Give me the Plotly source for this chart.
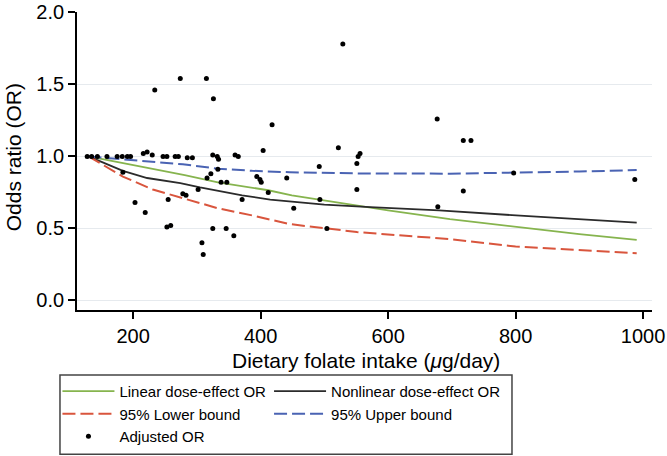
import plotly.graph_objects as go

# Linear dose-effect OR
lin_x = [130, 200, 281, 333, 412, 449, 500, 551, 600, 697, 800, 900, 990]
lin_y = [1.0, 0.94, 0.87, 0.82, 0.765, 0.73, 0.695, 0.655, 0.625, 0.565, 0.51, 0.46, 0.42]

# Nonlinear dose-effect OR
non_x = [130, 184, 222, 274, 305, 333, 371, 415, 449, 500, 572, 680, 820, 990]
non_y = [1.0, 0.90, 0.85, 0.815, 0.785, 0.76, 0.73, 0.70, 0.685, 0.665, 0.648, 0.625, 0.585, 0.54]

# 95% Lower bound
low_x = [130, 184, 231, 278, 333, 387, 446, 551, 650, 700, 800, 900, 990]
low_y = [1.0, 0.86, 0.77, 0.71, 0.64, 0.59, 0.53, 0.475, 0.443, 0.425, 0.374, 0.348, 0.328]

# 95% Upper bound
up_x = [130, 196, 278, 333, 387, 446, 551, 697, 797, 900, 990]
up_y = [1.0, 0.975, 0.945, 0.915, 0.90, 0.89, 0.882, 0.88, 0.886, 0.895, 0.905]

# Adjusted OR (study points)
adj_x = [128, 135, 144, 159, 175, 183, 191, 196, 216, 222, 230, 247, 253, 266, 271, 285, 293,
         325, 332, 334, 360, 365, 404, 184, 203, 255, 219, 253, 259, 278, 283, 322, 316, 333,
         338, 347, 302, 394, 399, 401, 441, 412, 371, 452, 325, 346, 358, 308, 310, 274, 315,
         326, 234, 418, 522, 529, 677, 553, 556, 551, 492, 551, 493, 504, 678, 718, 730, 718,
         797, 987]
adj_y = [1.00, 1.00, 1.00, 1.00, 1.00, 1.00, 1.00, 1.00, 1.02, 1.03, 1.01, 1.00, 1.00, 1.00, 1.00, 0.99, 0.99,
         1.01, 1.00, 0.98, 1.01, 1.00, 1.04, 0.89, 0.68, 0.70, 0.61, 0.51, 0.52, 0.74, 0.73, 0.88, 0.85, 0.91,
         0.82, 0.82, 0.77, 0.86, 0.84, 0.82, 0.85, 0.75, 0.70, 0.64, 0.50, 0.50, 0.45, 0.40, 0.32, 1.54, 1.54,
         1.40, 1.46, 1.22, 1.06, 1.78, 1.26, 1.00, 1.02, 0.95, 0.93, 0.77, 0.70, 0.50, 0.65, 1.11, 1.11, 0.76,
         0.885, 0.84]

x_ticks = [200, 400, 600, 800, 1000]
y_ticks = [0.0, 0.5, 1.0, 1.5, 2.0]

FONT = "Liberation Sans, Arial, Helvetica, sans-serif"

fig = go.Figure()
fig.add_trace(go.Scatter(x=lin_x, y=lin_y, mode="lines", name="Linear dose-effect OR",
                         line=dict(color="#86b44e", width=1.8), legend="legend", legendgroup="a"))
fig.add_trace(go.Scatter(x=non_x, y=non_y, mode="lines", name="Nonlinear dose-effect OR",
                         line=dict(color="#2b2b2b", width=1.8), legend="legend2", legendgroup="b"))
fig.add_trace(go.Scatter(x=low_x, y=low_y, mode="lines", name="95% Lower bound",
                         line=dict(color="#d9553d", width=2, dash="13px,5px"), legend="legend", legendgroup="c"))
fig.add_trace(go.Scatter(x=up_x, y=up_y, mode="lines", name="95% Upper bound",
                         line=dict(color="#4a63b3", width=2, dash="13px,5px"), legend="legend2", legendgroup="d"))
fig.add_trace(go.Scatter(x=adj_x, y=adj_y, mode="markers", name="Adjusted OR",
                         marker=dict(color="black", size=5), legend="legend", legendgroup="e"))

legend_common = dict(font=dict(family=FONT, size=15, color="black"), bgcolor="rgba(0,0,0,0)",
                     borderwidth=0, orientation="v", xanchor="left", yanchor="top",
                     tracegroupgap=0, itemwidth=52)
fig.update_layout(
    width=667, height=456,
    margin=dict(l=77, r=15, t=12, b=146, autoexpand=False),
    paper_bgcolor="white", plot_bgcolor="white",
    font=dict(family=FONT, color="black"),
    legend=dict(x=-0.034, y=-0.218, **legend_common),
    legend2=dict(x=0.334, y=-0.218, **legend_common),
    xaxis=dict(range=[112, 1014], tickvals=x_ticks, ticks="outside", ticklen=7, tickwidth=1.5,
               tickcolor="black", showline=True, linecolor="black", linewidth=1.8,
               showgrid=False, zeroline=False, tickfont=dict(size=20, family=FONT)),
    yaxis=dict(range=[-0.066, 2.002], tickvals=y_ticks, tickformat=".1f", ticks="outside",
               ticklen=7, tickwidth=1.5, tickcolor="black", showline=True, linecolor="black",
               linewidth=1.8, showgrid=True, gridcolor="#e6eaee", gridwidth=1, zeroline=False,
               tickfont=dict(size=20, family=FONT)),
    annotations=[
        dict(text="Dietary folate intake (<i>\u03bc</i>g/day)", xref="paper", yref="paper",
             x=0.503, y=-0.171, xanchor="center", yanchor="middle", showarrow=False,
             font=dict(size=21, family=FONT, color="black")),
        dict(text="Odds ratio (OR)", xref="paper", yref="paper", x=-0.111, y=0.513,
             xanchor="center", yanchor="middle", textangle=-90, showarrow=False,
             font=dict(size=21, family=FONT, color="black")),
    ],
    shapes=[dict(type="rect", xref="paper", yref="paper", x0=-0.0296, x1=0.7565,
                 y0=-0.484, y1=-0.218, line=dict(color="#444444", width=1.5))],
)

fig.write_html("out.html", config={"displayModeBar": False},
               post_script="document.body.style.margin='0';document.body.style.overflow='hidden';")
